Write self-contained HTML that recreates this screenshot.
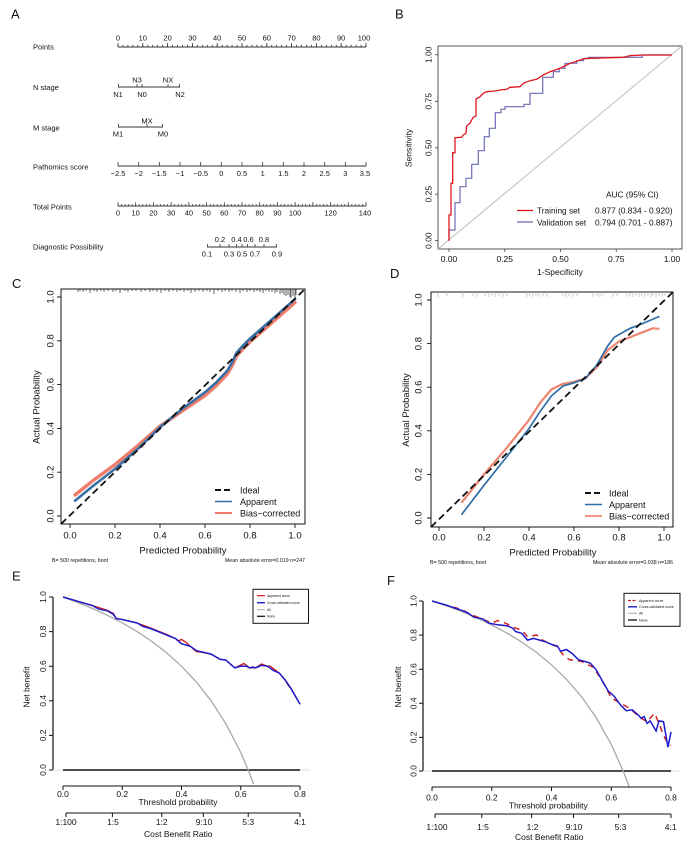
<!DOCTYPE html>
<html><head><meta charset="utf-8"><style>
html,body{margin:0;padding:0;background:#fff}
svg{display:block}
text{font-family:"Liberation Sans",Arial,sans-serif;fill:#111}
</style></head><body>
<svg width="700" height="842" viewBox="0 0 700 842" xmlns="http://www.w3.org/2000/svg">
<rect width="700" height="842" fill="#fff"/>

<!-- Panel letters -->
<g font-size="13">
<text x="11" y="18.5">A</text>
<text x="395" y="18.5">B</text>
<text x="12" y="288">C</text>
<text x="390" y="278">D</text>
<text x="12" y="580.5">E</text>
<text x="387" y="585">F</text>
</g>

<!-- ============ A: Nomogram ============ -->
<g font-size="7.5" fill="#222">
<text x="33" y="49.5">Points</text>
<text x="33" y="90">N stage</text>
<text x="33" y="130.5">M stage</text>
<text x="33" y="169.5">Pathomics score</text>
<text x="33" y="209.5">Total Points</text>
<text x="33" y="249.5">Diagnostic Possibility</text>
</g>
<g stroke="#333" fill="none">
<line x1="118" y1="47" x2="366" y2="47" stroke-width="0.9"/>
<line x1="117.6" y1="45.9" x2="366.4" y2="45.9" stroke-width="2.2" stroke-dasharray="0.8 4.16"/>
<line x1="117.6" y1="45" x2="366.4" y2="45" stroke-width="4" stroke-dasharray="0.8 24"/>
<line x1="118" y1="87" x2="180" y2="87" stroke-width="0.9"/>
<path d="M118.4 87v-3M137 87v-3M142 87v-3M168 87v-3M179.6 87v-3" stroke-width="0.8"/>
<line x1="118" y1="127" x2="163" y2="127" stroke-width="0.9"/>
<path d="M118.4 127v-3M147 127v-3M162.6 127v-3" stroke-width="0.8"/>
<line x1="118" y1="166" x2="366" y2="166" stroke-width="0.9"/>
<line x1="117.6" y1="164" x2="366.4" y2="164" stroke-width="4" stroke-dasharray="0.8 19.867"/>
<line x1="118" y1="206" x2="366" y2="206" stroke-width="0.9"/>
<line x1="117.65" y1="205" x2="366.4" y2="205" stroke-width="2" stroke-dasharray="0.7 2.843"/>
<line x1="117.65" y1="204" x2="366.4" y2="204" stroke-width="4" stroke-dasharray="0.7 17.014"/>
<line x1="207" y1="247" x2="277" y2="247" stroke-width="0.9"/>
<path d="M207.4 247v-3M220 247v-3M229 247v-3M236.5 247v-3M242 247v-3M247.5 247v-3M255 247v-3M264 247v-3M276.6 247v-3" stroke-width="0.8"/>
</g>
<g font-size="7.5" text-anchor="middle" fill="#222">
<text x="118" y="40.5">0</text><text x="142.8" y="40.5">10</text><text x="167.6" y="40.5">20</text>
<text x="192.4" y="40.5">30</text><text x="217.2" y="40.5">40</text><text x="242" y="40.5">50</text>
<text x="266.8" y="40.5">60</text><text x="291.6" y="40.5">70</text><text x="316.4" y="40.5">80</text>
<text x="341.2" y="40.5">90</text><text x="364" y="40.5">100</text>
<text x="137" y="82.5">N3</text><text x="168" y="82.5">NX</text>
<text x="118" y="97">N1</text><text x="142" y="97">N0</text><text x="180" y="97">N2</text>
<text x="147" y="123.5">MX</text>
<text x="118" y="136.5">M1</text><text x="163" y="136.5">M0</text>
<text x="118" y="176">−2.5</text><text x="138.7" y="176">−2</text><text x="159.3" y="176">−1.5</text>
<text x="180" y="176">−1</text><text x="200.7" y="176">−0.5</text><text x="221.3" y="176">0</text>
<text x="242" y="176">0.5</text><text x="262.7" y="176">1</text><text x="283.3" y="176">1.5</text>
<text x="304" y="176">2</text><text x="324.7" y="176">2.5</text><text x="345.3" y="176">3</text>
<text x="365" y="176">3.5</text>
<text x="118" y="215.5">0</text><text x="135.7" y="215.5">10</text><text x="153.4" y="215.5">20</text>
<text x="171.1" y="215.5">30</text><text x="188.9" y="215.5">40</text><text x="206.6" y="215.5">50</text>
<text x="224.3" y="215.5">60</text><text x="242" y="215.5">70</text><text x="259.7" y="215.5">80</text>
<text x="277.4" y="215.5">90</text><text x="295.1" y="215.5">100</text><text x="330.6" y="215.5">120</text>
<text x="365" y="215.5">140</text>
<text x="220" y="242">0.2</text><text x="236.5" y="242">0.4</text><text x="248.5" y="242">0.6</text><text x="264" y="242">0.8</text>
<text x="207" y="256.5">0.1</text><text x="229" y="256.5">0.3</text><text x="242" y="256.5">0.5</text><text x="255" y="256.5">0.7</text><text x="277" y="256.5">0.9</text>
</g>

<!-- ============ B: ROC ============ -->
<rect x="438" y="46" width="244" height="203" fill="none" stroke="#444" stroke-width="0.9"/>
<line x1="438" y1="249" x2="682" y2="46" stroke="#bdbdbd" stroke-width="1"/>
<path d="M438 240.7h-3M438 194.2h-3M438 147.8h-3M438 101.3h-3M438 54.8h-3M449 249v3M504.75 249v3M560.5 249v3M616.25 249v3M672 249v3" stroke="#444" stroke-width="0.8"/>
<g font-size="8.5" text-anchor="middle" fill="#222">
<text transform="translate(431.5,240.7) rotate(-90)">0.00</text>
<text transform="translate(431.5,194.2) rotate(-90)">0.25</text>
<text transform="translate(431.5,147.8) rotate(-90)">0.50</text>
<text transform="translate(431.5,101.3) rotate(-90)">0.75</text>
<text transform="translate(431.5,54.8) rotate(-90)">1.00</text>
<text x="449" y="262">0.00</text><text x="504.75" y="262">0.25</text><text x="560.5" y="262">0.50</text>
<text x="616.25" y="262">0.75</text><text x="672" y="262">1.00</text>
<text x="560" y="275">1-Specificity</text>
<text transform="translate(411.5,148) rotate(-90)">Sensitivity</text>
</g>
<path d="M449 240.7L449 230L455 230L455 202.7L460 202.7L460 186.7L466 186.7L466 178.3L471.7 178.3L471.7 164.3L478.3 164.3L478.3 150.7L484.3 150.7L484.3 136.7L489.3 136.7L489.3 128.3L495.3 128.3L495.3 112.7L501 112.7L501 109.3L505 109.3L505 106.7L524 106.7L524 104.3L530 104.3L530 93.3L542.7 93.3L542.7 77.3L553.3 77.3L553.3 71.7L559.3 71.7L559.3 68.3L565 68.3L565 63.3L576.7 63.3L576.7 60.7L583.3 60.7L583.3 58.3L588.3 58.3L588.3 57.3L642.3 57.3L642.3 55L671.7 55" fill="none" stroke="#6b6db2" stroke-width="1.2"/>
<path d="M449 240.7L449 215L451 215L451 183.3L452.7 183.3L452.7 152.7L455 152.7L455 137.7L461.7 137.3L463.3 135L466 133.3L466.7 125.7L470 123.3L471.7 120L473.3 117.3L476 116L476 99L480 96.7L483.3 93.3L486.7 91.7L495 91L500 90L506.7 89.3L510 87.3L520 86.7L523.3 83.3L530 80.7L536.7 79.3L543.3 75L550 71.7L560 68.3L566.7 65L570 63.3L583.3 59L590 58.3L623.3 57.3L630 55.7L642.3 55L671.7 55" fill="none" stroke="#e0161e" stroke-width="1.3"/>
<g font-size="8.3" fill="#222">
<text x="606" y="197.5">AUC (95% CI)</text>
<text x="537" y="213.5">Training set</text>
<text x="672.5" y="213.5" text-anchor="end">0.877 (0.834 - 0.920)</text>
<text x="537" y="225.5">Validation set</text>
<text x="672.5" y="225.5" text-anchor="end">0.794 (0.701 - 0.887)</text>
</g>
<line x1="517" y1="210.5" x2="533" y2="210.5" stroke="#e0161e" stroke-width="1.3"/>
<line x1="517" y1="222" x2="533" y2="222" stroke="#6b6db2" stroke-width="1.3"/>

<!-- ============ C: Calibration training ============ -->
<rect x="61" y="289" width="244" height="235" fill="none" stroke="#111" stroke-width="1"/>
<path d="M78 289v3M80 289v2M83 289v3M86 289v2M90 289v4M94 289v2M97 289v3M101 289v2M104 289v3M108 289v2M113 289v3M116 289v2M120 289v4M125 289v2M128 289v3M132 289v2M136 289v2M141 289v3M145 289v2M150 289v3M153 289v2M157 289v3M161 289v4M165 289v2M169 289v3M173 289v2M177 289v3M180 289v2M184 289v3M188 289v2M191 289v4M195 289v3M199 289v2M203 289v3M207 289v2M210 289v3M214 289v5M218 289v2M222 289v3M225 289v2M229 289v3M232 289v2M236 289v3M240 289v4M243 289v2M247 289v3M250 289v2M254 289v3M257 289v2M260 289v3M263 289v4M266 289v2M269 289v3M272 289v3M275 289v4M277 289v3M280 289v5M282 289v4M284 289v6M286 289v7M288 289v6M290 289v8M291 289v9M293 289v7M295 289v9M296 289v6" stroke="#222" stroke-width="0.7"/>
<path d="M61 516h-4M61 472.2h-4M61 428.4h-4M61 384.6h-4M61 340.8h-4M61 297h-4M70 524v4M115 524v4M160 524v4M205 524v4M250 524v4M295 524v4" stroke="#111" stroke-width="0.9"/>
<g font-size="9.5" text-anchor="middle" fill="#222">
<text transform="translate(53.5,516) rotate(-90)">0.0</text>
<text transform="translate(53.5,472.2) rotate(-90)">0.2</text>
<text transform="translate(53.5,428.4) rotate(-90)">0.4</text>
<text transform="translate(53.5,384.6) rotate(-90)">0.6</text>
<text transform="translate(53.5,340.8) rotate(-90)">0.8</text>
<text transform="translate(53.5,297) rotate(-90)">1.0</text>
<text x="70" y="538.5">0.0</text><text x="115" y="538.5">0.2</text><text x="160" y="538.5">0.4</text>
<text x="205" y="538.5">0.6</text><text x="250" y="538.5">0.8</text><text x="295" y="538.5">1.0</text>
<text transform="translate(39.5,407) rotate(-90)">Actual Probability</text>
<text x="183" y="553.5">Predicted Probability</text>
</g>
<g font-size="5.3" fill="#222">
<text x="52" y="562">B= 500 repetitions, boot</text>
<text x="305" y="562" text-anchor="end">Mean absolute error=0.019 n=247</text>
</g>
<polyline points="75,495 92.5,481 115,464.5 137.5,445.9 160,426.2 182.5,410.9 205,395.6 216.3,385.7 227.5,373.7 232,366 236.5,356.1 243.3,348.5 250,341.9 272.5,322.2 295,302.5" fill="none" stroke="#ee7d6c" stroke-width="3.4" stroke-linecap="round" stroke-linejoin="round"/>
<polyline points="75,500.7 92.5,486.4 115,468.9 137.5,449.2 160,427.3 182.5,408.7 205,392.3 216.3,382.4 227.5,370.4 232,362.7 236.5,352.8 243.3,345.2 250,338.6 272.5,318.9 295,299.2" fill="none" stroke="#3a6fa6" stroke-width="2.6" stroke-linecap="round" stroke-linejoin="round"/>
<line x1="61" y1="524" x2="305" y2="289" stroke="#111" stroke-width="1.8" stroke-dasharray="7 4"/>
<line x1="215" y1="490" x2="232" y2="490" stroke="#111" stroke-width="2" stroke-dasharray="6 3"/>
<line x1="215" y1="501.5" x2="232" y2="501.5" stroke="#3a6fa6" stroke-width="1.4"/>
<line x1="215" y1="513" x2="232" y2="513" stroke="#ee7d6c" stroke-width="2"/>
<g font-size="9" fill="#222">
<text x="240" y="493.5">Ideal</text>
<text x="240" y="505">Apparent</text>
<text x="240" y="516.5">Bias−corrected</text>
</g>

<!-- ============ D: Calibration validation ============ -->
<rect x="431" y="292" width="242" height="235" fill="none" stroke="#111" stroke-width="1"/>
<path d="M438 292v5M447 292v4M463 292v5M473 292v4M477 292v5M485 292v4M489 292v5M492 292v4M495 292v5M499 292v4M503 292v5M507 292v4M527 292v5M530 292v4M533 292v5M536 292v4M539 292v5M543 292v4M547 292v5M563 292v4M566 292v5M569 292v4M573 292v5M577 292v4M593 292v5M597 292v4M600 292v5M603 292v4M613 292v5M617 292v4M627 292v5M630 292v4M633 292v5M636 292v4M639 292v5M642 292v4M645 292v5M648 292v4M651 292v5M653 292v4M656 292v5M659 292v4M662 292v5M665 292v4" stroke="#b5b5b5" stroke-width="0.7"/>
<path d="M431 518h-4M431 474.4h-4M431 430.8h-4M431 387.2h-4M431 343.6h-4M431 300h-4M439 527v4M484 527v4M529 527v4M574 527v4M619 527v4M664 527v4" stroke="#111" stroke-width="0.9"/>
<g font-size="9.5" text-anchor="middle" fill="#222">
<text transform="translate(421.5,518) rotate(-90)">0.0</text>
<text transform="translate(421.5,474.4) rotate(-90)">0.2</text>
<text transform="translate(421.5,430.8) rotate(-90)">0.4</text>
<text transform="translate(421.5,387.2) rotate(-90)">0.6</text>
<text transform="translate(421.5,343.6) rotate(-90)">0.8</text>
<text transform="translate(421.5,300) rotate(-90)">1.0</text>
<text x="439" y="540.5">0.0</text><text x="484" y="540.5">0.2</text><text x="529" y="540.5">0.4</text>
<text x="574" y="540.5">0.6</text><text x="619" y="540.5">0.8</text><text x="664" y="540.5">1.0</text>
<text transform="translate(409,410) rotate(-90)">Actual Probability</text>
<text x="553" y="555.5">Predicted Probability</text>
</g>
<g font-size="5.3" fill="#222">
<text x="430" y="564">B= 500 repetitions, boot</text>
<text x="673" y="564" text-anchor="end">Mean absolute error=0.038 n=186</text>
</g>
<polyline points="461.5,502.7 484,474.4 506.5,448.2 529,419.9 540.3,402.5 551.5,389.4 562.8,383.9 574,381.8 585.3,378.5 596.5,367.6 607.8,350.1 619,341.4 630.3,337.1 641.5,332.7 652.8,328.3 659.5,328.8" fill="none" stroke="#ef8571" stroke-width="2.2" stroke-linejoin="round"/>
<polyline points="461.5,514.7 484,485.3 506.5,457 529,428.6 540.3,411.2 551.5,395.9 562.8,386.1 574,382.8 585.3,378.5 596.5,365.4 607.8,345.8 614.5,337.1 630.3,328.3 641.5,324 659.5,316.4" fill="none" stroke="#2f6ea8" stroke-width="1.7" stroke-linejoin="round"/>
<line x1="431" y1="527" x2="673" y2="292" stroke="#111" stroke-width="1.8" stroke-dasharray="7 4"/>
<line x1="585" y1="493" x2="602" y2="493" stroke="#111" stroke-width="2" stroke-dasharray="6 3"/>
<line x1="585" y1="504.5" x2="602" y2="504.5" stroke="#2f6ea8" stroke-width="1.4"/>
<line x1="585" y1="516" x2="602" y2="516" stroke="#ef8571" stroke-width="1.8"/>
<g font-size="9" fill="#222">
<text x="609" y="496.5">Ideal</text>
<text x="609" y="508">Apparent</text>
<text x="609" y="519.5">Bias−corrected</text>
</g>

<!-- ============ E: DCA training ============ -->
<line x1="53" y1="597" x2="53" y2="770" stroke="#111" stroke-width="1.2"/>
<path d="M53 597h-4M53 631.6h-4M53 666.2h-4M53 700.8h-4M53 735.4h-4M53 770h-4" stroke="#111" stroke-width="1"/>
<g font-size="8.5" text-anchor="middle" fill="#222">
<text transform="translate(46,770) rotate(-90)">0.0</text>
<text transform="translate(46,735.4) rotate(-90)">0.2</text>
<text transform="translate(46,700.8) rotate(-90)">0.4</text>
<text transform="translate(46,666.2) rotate(-90)">0.6</text>
<text transform="translate(46,631.6) rotate(-90)">0.8</text>
<text transform="translate(46,597) rotate(-90)">1.0</text>
<text transform="translate(29.5,687) rotate(-90)">Net benefit</text>
</g>
<line x1="53" y1="770" x2="310" y2="770" stroke="#dcdcdc" stroke-width="1"/>
<line x1="63" y1="770" x2="300" y2="770" stroke="#111" stroke-width="1.6"/>
<polyline points="63,597 77.8,602.5 92.6,608.5 107.4,615.3 122.3,622.9 137.1,631.6 151.9,641.5 166.7,652.9 181.5,666.2 196.3,681.9 211.1,700.8 225.9,723.8 240.8,752.7 248.2,770 253.5,784" fill="none" stroke="#a8a8a8" stroke-width="1.3"/>
<polyline points="63,597 92.6,605.6 107.4,610.3 113.4,613.5 116.3,618.6 122.3,619.5 137.1,623 151.9,628.5 166.7,634.5 175.6,638.5 178,641 181.5,639.5 185,641.5 190.4,646.3 196.3,651.6 200,652 211.1,654.1 220,659.3 225.9,660.1 234.8,667.9 240.8,665 244,663.5 249.6,667.9 255.6,667.9 261.5,664 267.4,666.2 270,666 273.3,668.5 279.3,673.1 285.2,680 288,685 291.1,688.7 300,704.3" fill="none" stroke="#d01515" stroke-width="1.3"/>
<polyline points="63,597 77.8,601.3 92.6,605.6 98.6,609.1 107.4,610.8 113.4,614.3 116.3,618.6 122.3,619.5 137.1,623 143,626.4 151.9,629 166.7,635.1 175.6,638.5 181.5,643.7 190.4,646.3 196.3,650.6 211.1,654.1 220,659.3 225.9,660.1 234.8,667.9 240.8,666.2 246.7,666.2 249.6,667.9 252.6,667 255.6,667.9 261.5,665.3 267.4,666.2 273.3,670.5 279.3,673.1 285.2,680 291.1,688.7 300,704.3" fill="none" stroke="#1c1ccc" stroke-width="1.5"/>
<rect x="253" y="589.3" width="55.5" height="34" fill="#fff" stroke="#111" stroke-width="1"/>
<line x1="257" y1="595.7" x2="265" y2="595.7" stroke="#d01515" stroke-width="1.2"/>
<line x1="257" y1="602.7" x2="265" y2="602.7" stroke="#1c1ccc" stroke-width="1.4"/>
<line x1="257" y1="609.7" x2="265" y2="609.7" stroke="#a8a8a8" stroke-width="1"/>
<line x1="257" y1="616.3" x2="265" y2="616.3" stroke="#111" stroke-width="1.3"/>
<g font-size="3.4" fill="#333">
<text x="267" y="597">Apparent curve</text>
<text x="267" y="604">Cross-validated curve</text>
<text x="267" y="611">All</text>
<text x="267" y="617.6">None</text>
</g>
<line x1="63" y1="786" x2="300" y2="786" stroke="#111" stroke-width="1"/>
<path d="M63 786v4M122.25 786v4M181.5 786v4M240.75 786v4M300 786v4" stroke="#111" stroke-width="1"/>
<line x1="66" y1="813" x2="300" y2="813" stroke="#111" stroke-width="1"/>
<path d="M66 813v4M112.4 813v4M161.75 813v4M203.3 813v4M248.2 813v4M300 813v4" stroke="#111" stroke-width="1"/>
<g font-size="8.5" text-anchor="middle" fill="#222">
<text x="63" y="797">0.0</text><text x="122.25" y="797">0.2</text><text x="181.5" y="797">0.4</text>
<text x="240.75" y="797">0.6</text><text x="300" y="797">0.8</text>
<text x="178" y="805">Threshold probability</text>
<text x="66" y="825">1:100</text><text x="113" y="825">1:5</text><text x="161.75" y="825">1:2</text>
<text x="204" y="825">9:10</text><text x="248.2" y="825">5:3</text><text x="300" y="825">4:1</text>
<text x="178.3" y="837">Cost Benefit Ratio</text>
</g>

<!-- ============ F: DCA validation ============ -->
<line x1="423" y1="601" x2="423" y2="771" stroke="#111" stroke-width="1.2"/>
<path d="M423 601h-4M423 635.1h-4M423 669.2h-4M423 703.3h-4M423 737.4h-4M423 771h-4" stroke="#111" stroke-width="1"/>
<g font-size="8.5" text-anchor="middle" fill="#222">
<text transform="translate(416.5,771) rotate(-90)">0.0</text>
<text transform="translate(416.5,737.4) rotate(-90)">0.2</text>
<text transform="translate(416.5,703.3) rotate(-90)">0.4</text>
<text transform="translate(416.5,669.2) rotate(-90)">0.6</text>
<text transform="translate(416.5,635.1) rotate(-90)">0.8</text>
<text transform="translate(416.5,601) rotate(-90)">1.0</text>
<text transform="translate(401,687) rotate(-90)">Net benefit</text>
</g>
<line x1="423" y1="771" x2="680" y2="771" stroke="#dcdcdc" stroke-width="1"/>
<line x1="432" y1="771" x2="671" y2="771" stroke="#111" stroke-width="1.6"/>
<polyline points="432,601 446.9,606 461.9,611.6 476.8,617.9 491.8,625 506.7,632.9 521.6,642 536.6,652.5 551.5,664.8 566.4,679.2 581.4,696.6 596.3,717.9 611.3,744.5 623.2,771 629.2,786.6" fill="none" stroke="#a8a8a8" stroke-width="1.3"/>
<polyline points="432,601 461.9,609.5 470.8,614.6 479.8,618 491.8,623.1 497.7,620.6 503.7,622.3 515.7,628.2 521.6,629.9 527.6,636.7 536.6,635 542.5,640.1 551.5,644.4 557.5,646.9 563.5,655.4 569.4,659.7 581.4,661.4 593.3,667.3 602.3,680.9 611.3,697.9 620.2,703 629.2,708.1 641.1,718.3 647.1,721.7 654.6,713.2 659,723.4 663.5,735.3 668,743.8 671,745.5" fill="none" stroke="#d01515" stroke-width="1.4" stroke-dasharray="6 5"/>
<polyline points="432,601 446.9,605.3 461.9,610.4 467.9,612.9 473.8,617.2 482.8,618.9 488.8,623.1 497.7,624.8 506.7,625.7 512.7,628.2 515.7,631.6 521.6,633.3 527.6,640.1 533.6,638.4 539.6,640.1 545.5,641.8 551.5,644.4 557.5,646.1 560.5,651.2 566.4,649.5 572.4,653.7 578.4,659.7 584.4,661.4 590.3,663.1 596.3,669.9 602.3,680.9 608.3,691.1 614.2,696.2 620.2,704.7 626.2,710.7 632.2,709.8 638.1,714.9 641.1,718.3 644.1,716.6 647.1,723.4 650.1,720.9 656.1,731 659,720.9 663.5,721.7 668,747.2 671,731.9" fill="none" stroke="#1c1ccc" stroke-width="1.5"/>
<rect x="624" y="593.3" width="56" height="33" fill="#fff" stroke="#111" stroke-width="1"/>
<line x1="628" y1="600.5" x2="637" y2="600.5" stroke="#d01515" stroke-width="1.2" stroke-dasharray="3 1.5"/>
<line x1="628" y1="606.8" x2="637" y2="606.8" stroke="#1c1ccc" stroke-width="1.4"/>
<line x1="628" y1="613.3" x2="637" y2="613.3" stroke="#a8a8a8" stroke-width="1"/>
<line x1="628" y1="620" x2="637" y2="620" stroke="#111" stroke-width="1.3"/>
<g font-size="3.6" fill="#333">
<text x="639" y="601.8">Apparent curve</text>
<text x="639" y="608.1">Cross-validated curve</text>
<text x="639" y="614.6">All</text>
<text x="639" y="621.3">None</text>
</g>
<line x1="432" y1="787" x2="671" y2="787" stroke="#111" stroke-width="1"/>
<path d="M432 787v4M491.75 787v4M551.5 787v4M611.25 787v4M671 787v4" stroke="#111" stroke-width="1"/>
<line x1="435" y1="814" x2="671" y2="814" stroke="#111" stroke-width="1"/>
<path d="M435 814v4M481.8 814v4M531.6 814v4M573.5 814v4M618.7 814v4M671 814v4" stroke="#111" stroke-width="1"/>
<g font-size="8.5" text-anchor="middle" fill="#222">
<text x="432" y="800.5">0.0</text><text x="491.75" y="800.5">0.2</text><text x="551.5" y="800.5">0.4</text>
<text x="611.25" y="800.5">0.6</text><text x="671" y="800.5">0.8</text>
<text x="548.3" y="808.5">Threshold probability</text>
<text x="437" y="830">1:100</text><text x="483" y="830">1:5</text><text x="532.5" y="830">1:2</text>
<text x="574" y="830">9:10</text><text x="620.5" y="830">5:3</text><text x="670.7" y="830">4:1</text>
<text x="549.3" y="840">Cost Benefit Ratio</text>
</g>
</svg>
</body></html>
